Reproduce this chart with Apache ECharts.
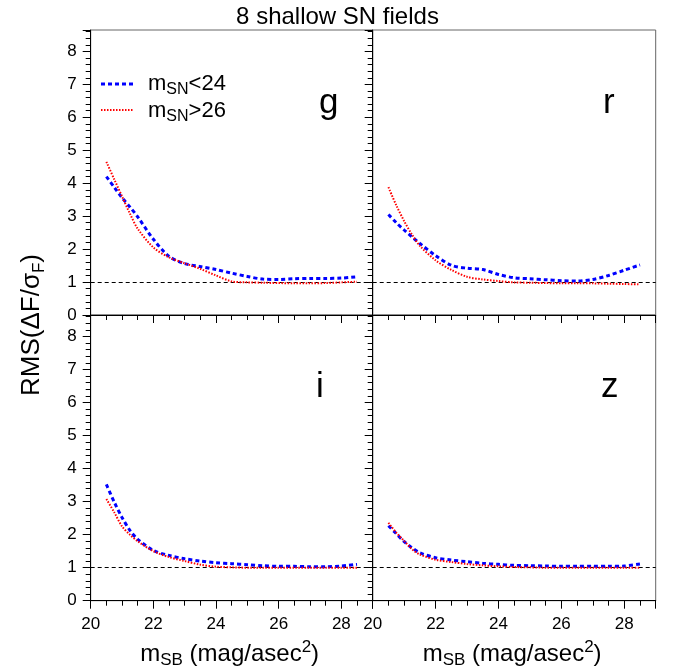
<!DOCTYPE html>
<html>
<head>
<meta charset="utf-8">
<script src="https://cdn.jsdelivr.net/npm/echarts@6/dist/echarts.min.js"></script>
<style>
html,body{margin:0;padding:0;background:#fff;}
#chart{width:675px;height:672px;}
</style>
</head>
<body>
<div id="chart"></div>
<script>
// ---- data ----
const xs = [20.5, 20.75, 21, 21.25, 21.5, 22, 22.5, 23, 23.5, 24, 24.5, 25, 25.5, 26, 26.5, 27, 27.5, 28, 28.5];

const gLow  = [4.2, 3.88, 3.56, 3.28, 2.98, 2.3, 1.78, 1.56, 1.47, 1.38, 1.27, 1.17, 1.09, 1.08, 1.1, 1.11, 1.11, 1.12, 1.16];
const gHigh = [4.65, 4.12, 3.6, 3.08, 2.62, 2.05, 1.75, 1.57, 1.4, 1.2, 1.02, 0.99, 0.98, 0.97, 0.96, 0.96, 0.97, 0.99, 1.01];

const rLow  = [3.05, 2.8, 2.58, 2.37, 2.17, 1.8, 1.51, 1.42, 1.38, 1.23, 1.13, 1.1, 1.07, 1.04, 1.03, 1.08, 1.2, 1.36, 1.52];
const rHigh = [3.88, 3.33, 2.85, 2.44, 2.1, 1.66, 1.37, 1.16, 1.08, 1.03, 0.99, 0.98, 0.97, 0.96, 0.96, 0.96, 0.95, 0.94, 0.93];

const iLow  = [3.52, 2.99, 2.52, 2.13, 1.86, 1.52, 1.37, 1.27, 1.2, 1.15, 1.12, 1.09, 1.06, 1.04, 1.04, 1.03, 1.03, 1.05, 1.1];
const iHigh = [3.08, 2.68, 2.25, 2.0, 1.8, 1.5, 1.32, 1.2, 1.09, 1.03, 1.01, 1.0, 1.0, 1.0, 1.0, 1.0, 1.0, 1.0, 1.0];

const zLow  = [2.27, 2.03, 1.79, 1.6, 1.45, 1.3, 1.23, 1.18, 1.13, 1.1, 1.07, 1.06, 1.05, 1.04, 1.04, 1.04, 1.04, 1.05, 1.11];
const zHigh = [2.36, 2.06, 1.81, 1.56, 1.4, 1.24, 1.17, 1.11, 1.07, 1.04, 1.02, 1.01, 1.0, 1.0, 1.0, 1.0, 1.0, 1.0, 1.0];

const panelNames = ['g', 'r', 'i', 'z'];
const lowSeries  = [gLow, rLow, iLow, zLow];
const highSeries = [gHigh, rHigh, iHigh, zHigh];
const refValue = 1;
const xTickLabels = [20, 22, 24, 26, 28];
const yTickLabels = [0, 1, 2, 3, 4, 5, 6, 7, 8];

// ---- layout ----
const FONT = 'Liberation Sans';
const L = 90.7, M = 372.7, R = 655.7, T = 30, MID = 315, B = 600.7;
const grids = [
  {left: L, top: T, width: M - L, height: MID - T},
  {left: M, top: T, width: R - M, height: MID - T},
  {left: L, top: MID, width: M - L, height: B - MID},
  {left: M, top: MID, width: R - M, height: B - MID}
].map(g => Object.assign(g, {show: true, borderColor: '#666', borderWidth: 1, backgroundColor: 'transparent'}));

const xAxes = grids.map((g, i) => ({
  type: 'value', gridIndex: i, min: 20, max: 29, interval: 2,
  axisLine: {show: true, onZero: false, lineStyle: {color: '#000', width: 1}},
  axisTick: {show: true, inside: false, length: 8, lineStyle: {color: '#000'}},
  minorTick: {show: true, splitNumber: 4, length: 5, lineStyle: {color: '#000'}},
  splitLine: {show: false},
  axisLabel: {
    show: i >= 2, fontFamily: FONT, fontSize: 17, color: '#000', margin: 15,
    showMaxLabel: false,
    formatter: v => (xTickLabels.indexOf(v) >= 0 ? String(v) : '')
  }
}));

const yAxes = grids.map((g, i) => ({
  type: 'value', gridIndex: i, min: 0, max: 8.65, interval: 1,
  axisLine: {show: true, onZero: false, lineStyle: {color: '#000', width: 1}},
  axisTick: {show: true, inside: false, length: 8, lineStyle: {color: '#000'}},
  minorTick: {show: true, splitNumber: 5, length: 5, lineStyle: {color: '#000'}},
  splitLine: {show: false},
  axisLabel: {
    show: i % 2 === 0, fontFamily: FONT, fontSize: 17, color: '#000', margin: 14,
    showMaxLabel: false,
    formatter: v => (yTickLabels.indexOf(v) >= 0 ? String(v) : '')
  }
}));

const series = [];
for (let i = 0; i < 4; i++) {
  series.push({
    type: 'line', xAxisIndex: i, yAxisIndex: i, smooth: 0.3, symbol: 'none',
    data: xs.map((x, k) => [x, lowSeries[i][k]]),
    lineStyle: {color: '#0000ff', width: 3, type: [4, 3]},
    z: 3,
    markLine: {
      silent: true, symbol: 'none', label: {show: false},
      lineStyle: {color: '#000', width: 1, type: [4, 3]},
      data: [{yAxis: refValue}],
      z: 2
    }
  });
  series.push({
    type: 'line', xAxisIndex: i, yAxisIndex: i, smooth: 0.3, symbol: 'none',
    data: xs.map((x, k) => [x, highSeries[i][k]]),
    lineStyle: {color: '#ff0000', width: 2, type: [1.5, 1.5]},
    z: 4
  });
}

function txt(x, y, text, opts) {
  return {
    type: 'text', x: x, y: y, z: 10,
    rotation: opts.rotation || 0,
    style: Object.assign({
      text: text, fontFamily: FONT, fill: '#000',
      align: 'left', verticalAlign: 'alphabetic'
    }, opts.style || {})
  };
}

const subRich = (size, subSize, color, drop) => ({
  n: {fontFamily: FONT, fontSize: size, color: color, lineHeight: size + 6},
  s: {fontFamily: FONT, fontSize: subSize, color: color, lineHeight: subSize, verticalAlign: 'bottom', padding: [drop, 0, 0, 0]},
  p: {fontFamily: FONT, fontSize: subSize, color: color, lineHeight: subSize, verticalAlign: 'top', padding: [0, 0, drop, 0]}
});

const graphics = [];
// panel letters
const letterPos = [[319, 86], [603, 86], [316, 370], [601, 370]];
panelNames.forEach((n, i) => {
  graphics.push(txt(letterPos[i][0], letterPos[i][1], n, {style: {fontSize: 35}}));
});
// legend
graphics.push({type: 'line', z: 10, shape: {x1: 101, y1: 84, x2: 133, y2: 84},
  style: {stroke: '#0000ff', lineWidth: 3, lineDash: [4, 3]}});
graphics.push({type: 'line', z: 10, shape: {x1: 101, y1: 110, x2: 133, y2: 110},
  style: {stroke: '#ff0000', lineWidth: 2, lineDash: [1.5, 1.5]}});
graphics.push(txt(148, 84, '{n|m}{s|SN}{n|<24}', {style: {verticalAlign: 'middle', rich: subRich(22, 16, '#0000ff', 11)}}));
graphics.push(txt(148, 111, '{n|m}{s|SN}{n|>26}', {style: {verticalAlign: 'middle', rich: subRich(22, 16, '#ff0000', 11)}}));
// x axis titles
[(L + M) / 2, (M + R) / 2].forEach(cx => {
  graphics.push(txt(cx - 2, 654, '{n|m}{s|SB}{n| (mag/asec}{p|2}{n|)}',
    {style: {align: 'center', verticalAlign: 'middle', rich: subRich(24, 17, '#000', 11)}}));
});
// y axis title
graphics.push(txt(32, 325, '{n|RMS(ΔF/σ}{s|F}{n|)}',
  {rotation: Math.PI / 2, style: {align: 'center', verticalAlign: 'middle', rich: subRich(26, 17, '#000', 12)}}));

const chart = echarts.init(document.getElementById('chart'), null, {renderer: 'canvas'});
chart.setOption({
  animation: false,
  backgroundColor: '#fff',
  title: {text: '8 shallow SN fields', left: 'center', top: 0,
    textStyle: {fontFamily: FONT, fontSize: 24, fontWeight: 'normal', color: '#000'}},
  grid: grids,
  xAxis: xAxes,
  yAxis: yAxes,
  series: series,
  graphic: graphics
});
</script>
</body>
</html>
